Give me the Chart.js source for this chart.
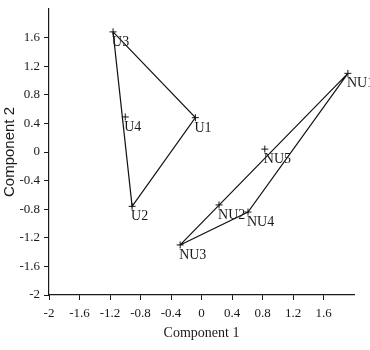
<!DOCTYPE html>
<html>
<head>
<meta charset="utf-8">
<script src="https://cdn.jsdelivr.net/npm/chart.js@4/dist/chart.umd.min.js"></script>
<style>
html,body{margin:0;padding:0;background:#fff;}
#wrap{width:370px;height:350px;}
</style>
</head>
<body>
<div id="wrap"><canvas id="c" width="370" height="350"></canvas></div>
<script>
// Point names and coordinates
const pointNames = ["U1","U2","U3","U4","NU1","NU2","NU3","NU4","NU5"];
const comp1 = [-0.08, -0.91, -1.16, -1.00, 1.92, 0.23, -0.28, 0.61, 0.83];
const comp2 = [0.48, -0.76, 1.68, 0.49, 1.10, -0.74, -1.30, -0.84, 0.04];
// Hull outlines (by point name)
const uHull = ["U3","U1","U2","U3"];
const nuHull = ["NU3","NU1","NU4","NU3"];
// Tick labels
const xTicks = ["-2","-1.6","-1.2","-0.8","-0.4","0","0.4","0.8","1.2","1.6"];
const yTicks = ["-2","-1.6","-1.2","-0.8","-0.4","0","0.4","0.8","1.2","1.6"];

const pts = pointNames.map((n,i)=>({x:comp1[i], y:comp2[i], name:n}));
const hullData = h => h.map(n => { const i = pointNames.indexOf(n); return {x:comp1[i], y:comp2[i]}; });

const serif = "'Liberation Serif','Times New Roman',serif";
const sans = "'Liberation Sans',Arial,sans-serif";

const labelPlugin = {
  id:'pointLabels',
  afterDatasetsDraw(chart){
    const ctx = chart.ctx;
    const xs = chart.scales.x, ys = chart.scales.y;
    ctx.save();
    ctx.font = "14px " + serif;
    ctx.fillStyle = "#1a1a1a";
    ctx.textAlign = "left";
    ctx.textBaseline = "alphabetic";
    pts.forEach(p=>{
      const px = xs.getPixelForValue(p.x), py = ys.getPixelForValue(p.y);
      ctx.fillText(p.name, px - 1, py + 14);
    });
    ctx.restore();
  }
};

function fixedTicks(labels){
  return function(scale){
    scale.ticks = labels.map(l=>({value: parseFloat(l), label: l}));
  };
}

new Chart(document.getElementById('c'), {
  type:'scatter',
  data:{
    datasets:[
      {data:hullData(uHull), showLine:true, borderColor:'#111', borderWidth:1.2, pointRadius:0, fill:false},
      {data:hullData(nuHull), showLine:true, borderColor:'#111', borderWidth:1.2, pointRadius:0, fill:false},
      {data:pts, showLine:false, pointStyle:'cross', pointRadius:3.5, borderColor:'#111', borderWidth:1, backgroundColor:'#111'}
    ]
  },
  options:{
    responsive:false,
    animation:false,
    devicePixelRatio:1,
    layout:{padding:{top:9,right:16,left:0,bottom:0}},
    plugins:{legend:{display:false}, tooltip:{enabled:false}},
    scales:{
      x:{
        type:'linear', min:-2, max:2,
        afterBuildTicks: fixedTicks(xTicks),
        afterFit(s){ s.height = 55; },
        grid:{drawOnChartArea:false, drawTicks:true, tickLength:5, color:'#1a1a1a'},
        border:{display:true, color:'#1a1a1a', width:1.2},
        ticks:{font:{family:serif, size:13}, color:'#1a1a1a', padding:6, maxRotation:0, autoSkip:false,
          callback:(v,i,t)=>t[i].label},
        title:{display:true, text:'Component 1', font:{family:serif, size:14}, color:'#1a1a1a', padding:{top:0,bottom:8}}
      },
      y:{
        type:'linear', min:-2, max:2,
        afterBuildTicks: fixedTicks(yTicks),
        afterFit(s){ s.width = 49; },
        grid:{drawOnChartArea:false, drawTicks:true, tickLength:5, color:'#1a1a1a'},
        border:{display:true, color:'#1a1a1a', width:1.2},
        ticks:{font:{family:serif, size:13, lineHeight:0.7}, color:'#1a1a1a', padding:4, autoSkip:false,
          callback:(v,i,t)=>t[i].label},
        title:{display:true, text:'Component 2', font:{family:sans, size:15}, color:'#1a1a1a', padding:{top:1,bottom:0}}
      }
    }
  },
  plugins:[labelPlugin]
});
</script>
</body>
</html>
